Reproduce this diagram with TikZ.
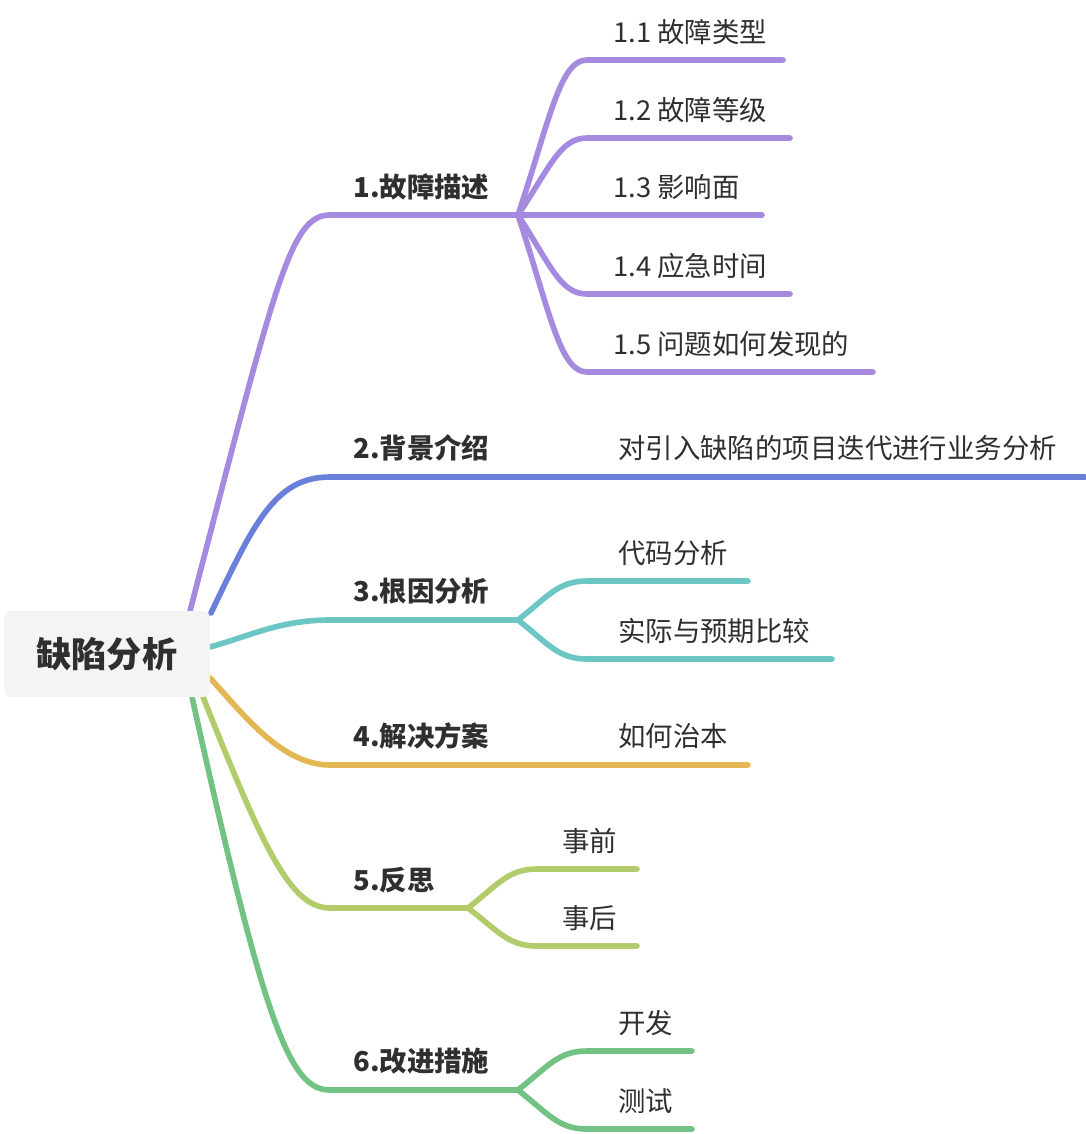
\documentclass[tikz,border=0pt]{standalone}
\usepackage{fontspec}
\setmainfont{Noto Sans CJK SC}
\usepackage{xcolor}
\usetikzlibrary{calc}

\definecolor{inkc}{HTML}{2F2F2F}
\definecolor{rootgray}{HTML}{F4F4F4}
\definecolor{cpurple}{HTML}{A58AE0}
\definecolor{cblue}{HTML}{6A7FD9}
\definecolor{cteal}{HTML}{6CC6C4}
\definecolor{corange}{HTML}{E4B755}
\definecolor{colive}{HTML}{B2CC6C}
\definecolor{cgreen}{HTML}{72C283}

\begin{document}
\begin{tikzpicture}[x=0.02cm,y=-0.02cm,
  br/.style={line width=3.2pt,line cap=round,line join=round},
  rootbox/.style={fill=rootgray,rounded corners=4pt,minimum width=4.12cm,minimum height=1.72cm,
    text=inkc,font=\fontsize{20}{24}\selectfont\bfseries},
  blabel/.style={anchor=west,inner sep=0pt,text=inkc,font=\fontsize{15.6}{19}\selectfont\bfseries},
  clabel/.style={anchor=west,inner sep=0pt,text=inkc,font=\fontsize{15.6}{19}\selectfont}]
  \useasboundingbox (0,0) rectangle (1086,1134);

  % 1
  \coordinate (s1) at (190,611);
  \coordinate (b1) at (330,215);
  \coordinate (f1) at (518,215);
  \draw[br,cpurple] (s1) .. controls +(86,-330) and +(-40,0) .. (b1) -- (f1);
  \node[blabel] (l1) at (353,187) {1.故障描述};
  \foreach \y/\e/\t [count=\i] in {60/783/1.1 故障类型,138/790/1.2 故障等级,215/762/1.3 影响面,
                                   294/790/1.4 应急时间,372/873/1.5 问题如何发现的} {
    \coordinate (k1\i) at (587,\y);
    \coordinate (e1\i) at (\e,\y);
    \draw[br,cpurple] (f1) .. controls (550,{215+0.62*(\y-215)}) and (560,\y) .. (k1\i) -- (e1\i);
    \node[clabel] (t1\i) at (613,{\y-28}) {\t};
  }

  % 2
  \coordinate (s2) at (211,613);
  \coordinate (b2) at (330,477);
  \coordinate (f2) at (518,477);
  \coordinate (e2) at (1085,477);
  \draw[br,cblue] (s2) .. controls +(43,-90) and +(-55,0) .. (b2) -- (f2) -- (e2);
  \node[blabel] (l2) at (353,448) {2.背景介绍};
  \node[clabel] (t21) at (618,448) {对引入缺陷的项目迭代进行业务分析};

  % 3
  \coordinate (s3) at (210,647);
  \coordinate (b3) at (330,620);
  \coordinate (f3) at (518,620);
  \draw[br,cteal] (s3) .. controls +(40,-11) and +(-50,0) .. (b3) -- (f3);
  \node[blabel] (l3) at (353,591) {3.根因分析};
  \foreach \y/\e/\t [count=\i] in {581/748/代码分析,659/832/实际与预期比较} {
    \coordinate (k3\i) at (587,\y);
    \coordinate (e3\i) at (\e,\y);
    \draw[br,cteal] (f3) .. controls (548,{620+0.6*(\y-620)}) and (558,\y) .. (k3\i) -- (e3\i);
    \node[clabel] (t3\i) at (618,{\y-28}) {\t};
  }

  % 4
  \coordinate (s4) at (210,678);
  \coordinate (b4) at (330,765);
  \coordinate (f4) at (518,765);
  \coordinate (e4) at (748,765);
  \draw[br,corange] (s4) .. controls +(30,32) and +(-50,0) .. (b4) -- (f4) -- (e4);
  \node[blabel] (l4) at (353,736) {4.解决方案};
  \node[clabel] (t41) at (618,736) {如何治本};

  % 5
  \coordinate (s5) at (203,697);
  \coordinate (b5) at (330,908);
  \coordinate (f5) at (468,908);
  \draw[br,colive] (s5) .. controls +(60,150) and +(-40,0) .. (b5) -- (f5);
  \node[blabel] (l5) at (353,880) {5.反思};
  \foreach \y/\e/\t [count=\i] in {869/637/事前,946/637/事后} {
    \coordinate (k5\i) at (537,\y);
    \coordinate (e5\i) at (\e,\y);
    \draw[br,colive] (f5) .. controls (498,{908+0.6*(\y-908)}) and (508,\y) .. (k5\i) -- (e5\i);
    \node[clabel] (t5\i) at (562,{\y-28}) {\t};
  }

  % 6
  \coordinate (s6) at (192,697);
  \coordinate (b6) at (330,1090);
  \coordinate (f6) at (518,1090);
  \draw[br,cgreen] (s6) .. controls +(73,330) and +(-40,0) .. (b6) -- (f6);
  \node[blabel] (l6) at (353,1061) {6.改进措施};
  \foreach \y/\e/\t [count=\i] in {1051/692/开发,1129/692/测试} {
    \coordinate (k6\i) at (587,\y);
    \coordinate (e6\i) at (\e,\y);
    \draw[br,cgreen] (f6) .. controls (548,{1090+0.6*(\y-1090)}) and (558,\y) .. (k6\i) -- (e6\i);
    \node[clabel] (t6\i) at (618,{\y-28}) {\t};
  }

  \node[rootbox] (root) at (107,654) {缺陷分析};
\end{tikzpicture}
\end{document}
